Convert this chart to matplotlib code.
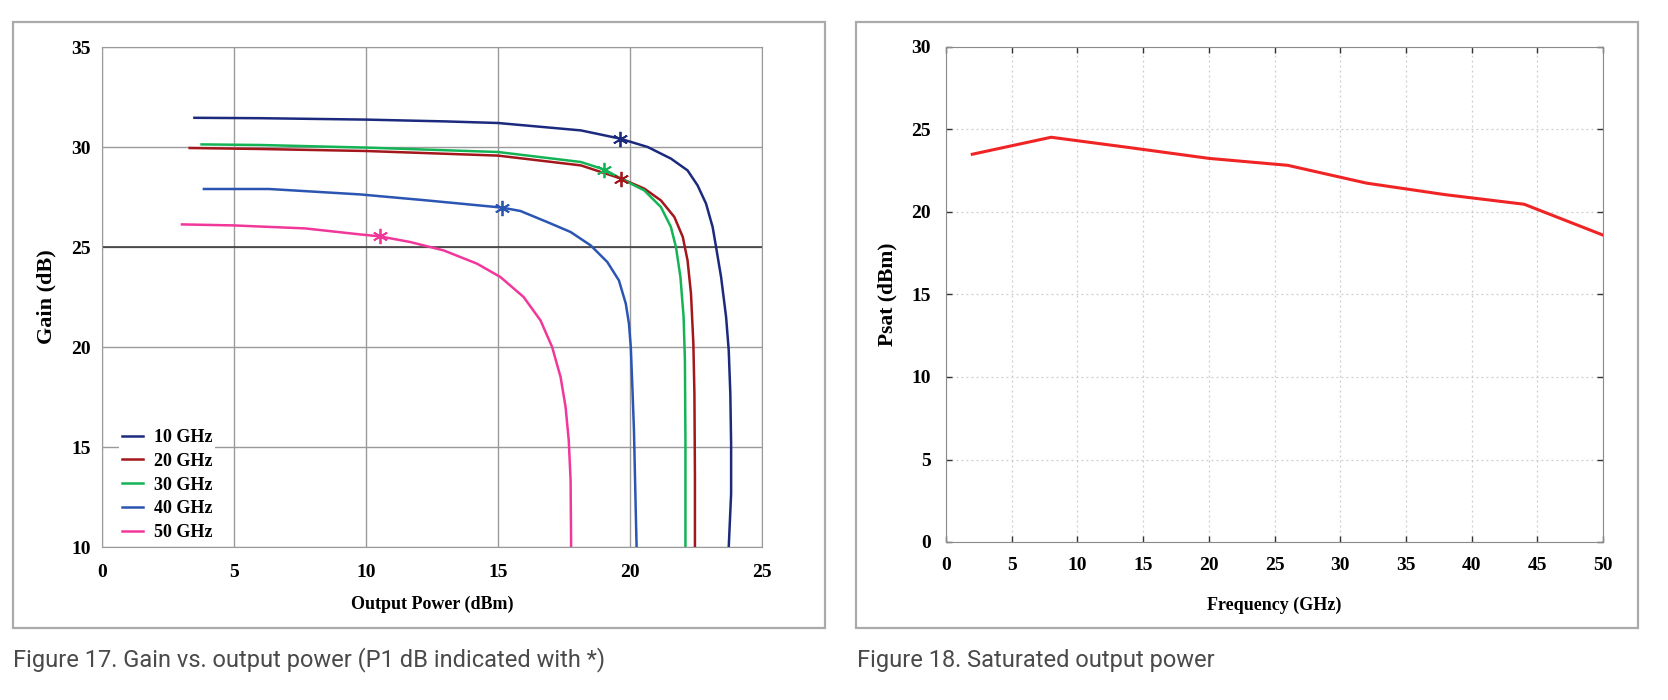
import matplotlib.pyplot as plt
from matplotlib.patches import Rectangle

# Figure 17 data: gain vs output power
p10_x = [3.5, 6.0, 10.0, 13.0, 15.0, 18.14, 19.62, 20.67, 21.55, 22.18, 22.56, 22.88, 23.13, 23.26,
         23.45, 23.64, 23.74, 23.8, 23.83, 23.83, 23.74]
p10_y = [31.46, 31.44, 31.37, 31.28, 31.2, 30.83, 30.42, 30.0, 29.42, 28.83, 28.08, 27.17, 26.0, 25.0,
         23.5, 21.5, 19.83, 17.67, 15.17, 12.67, 10.0]
p20_x = [3.32, 6.0, 10.0, 15.0, 18.14, 19.66, 20.54, 21.17, 21.68, 22.0, 22.18, 22.31, 22.4, 22.44,
         22.46, 22.46]
p20_y = [29.95, 29.9, 29.8, 29.57, 29.08, 28.42, 27.92, 27.33, 26.5, 25.5, 24.33, 22.67, 20.17, 17.67,
         13.5, 10.0]
p30_x = [3.77, 6.0, 10.0, 15.0, 18.14, 19.03, 19.79, 20.54, 21.17, 21.55, 21.74, 21.91, 22.03, 22.08,
         22.1, 22.1]
p30_y = [30.13, 30.1, 29.97, 29.75, 29.25, 28.87, 28.33, 27.83, 27.0, 26.0, 25.0, 23.5, 21.5, 19.33,
         15.17, 10.0]
p40_x = [3.86, 6.33, 9.77, 12.3, 15.15, 15.85, 16.86, 17.75, 18.51, 19.14, 19.58, 19.84, 19.96, 20.03,
         20.09, 20.15, 20.22, 20.25]
p40_y = [27.9, 27.9, 27.63, 27.33, 26.97, 26.8, 26.25, 25.75, 25.08, 24.25, 23.33, 22.17, 21.17, 20.0,
         18.0, 15.83, 11.67, 10.0]
p50_x = [3.03, 4.97, 7.69, 9.77, 10.53, 11.67, 12.94, 14.2, 15.09, 15.97, 16.61, 17.05, 17.37, 17.56,
         17.68, 17.75, 17.77]
p50_y = [26.13, 26.08, 25.93, 25.63, 25.53, 25.25, 24.83, 24.17, 23.5, 22.5, 21.33, 20.0, 18.5, 17.0,
         15.33, 13.33, 10.0]

labels = ['10 GHz', '20 GHz', '30 GHz', '40 GHz', '50 GHz']
colors = ['#1c2a7e', '#a3161c', '#14b456', '#2b55b3', '#f2379a']
# P1dB points (marked with *)
p1db_x = [19.62, 19.66, 19.03, 15.15, 10.53]
p1db_y = [30.42, 28.42, 28.87, 26.97, 25.53]

# Figure 18 data: saturated output power
freq = [2, 8, 14, 20, 26, 32, 38, 44, 50]
psat = [23.5, 24.53, 23.9, 23.25, 22.83, 21.75, 21.05, 20.47, 18.6]

serif = 'Liberation Serif'
W, H = 1668, 700

fig = plt.figure(figsize=(W / 100, H / 100), dpi=100)

#  Panel frames
for x0, y0, x1, y1 in [(13, 22, 825, 628), (856, 22, 1638, 628)]:
    fig.add_artist(Rectangle((x0 / W, 1 - y1 / H), (x1 - x0) / W, (y1 - y0) / H,
                             transform=fig.transFigure, fill=False, edgecolor='#aaaaaa', lw=1.6))

#  Left chart
ax = fig.add_axes([102 / W, 1 - 547 / H, (762 - 102) / W, (547 - 47) / H])
series = [(p10_x, p10_y), (p20_x, p20_y), (p30_x, p30_y), (p40_x, p40_y), (p50_x, p50_y)]
for (xs, ys), c, lab in zip(series, colors, labels):
    ax.plot(xs, ys, color=c, lw=1.8, label=lab, zorder=3)
for x, y, c in zip(p1db_x, p1db_y, colors):
    ax.plot([x], [y], marker=(6, 2, 0), markersize=11, markeredgewidth=1.3, color=c, zorder=4)
ax.set_xlim(0, 25)
ax.set_ylim(10, 35)
ax.set_xticks(range(0, 26, 5))
ax.set_yticks(range(10, 36, 5))
ax.grid(color='#9a9a9a', lw=1.0)
ax.axhline(25, color='#333333', lw=1.1, zorder=2)
for s in ax.spines.values():
    s.set_color('#9a9a9a')
    s.set_zorder(6)
ax.tick_params(length=0, pad=8, labelsize=14)
ax.tick_params(axis='x', pad=12)
for t in ax.get_xticklabels() + ax.get_yticklabels():
    t.set_fontfamily(serif)
    t.set_fontweight('bold')
ax.set_xlabel('Output Power (dBm)', fontfamily=serif, fontweight='bold', fontsize=13, labelpad=11)
ax.set_ylabel('Gain (dB)', fontfamily=serif, fontweight='bold', fontsize=16, labelpad=11)
leg = ax.legend(loc='lower left', frameon=True, fancybox=False, framealpha=1, edgecolor='none',
                handlelength=1.2, handletextpad=0.6, labelspacing=0.38, borderpad=0.15,
                bbox_to_anchor=(0.012, -0.012),
                prop={'family': serif, 'weight': 'bold', 'size': 13})
leg.set_zorder(5)

#  Right chart
ax2 = fig.add_axes([946 / W, 1 - 542 / H, (1603 - 946) / W, (542 - 47) / H])
ax2.plot(freq, psat, color='#f02424', lw=2.2, zorder=3)
ax2.set_xlim(0, 50)
ax2.set_ylim(0, 30)
ax2.set_xticks(range(0, 51, 5))
ax2.set_yticks(range(0, 31, 5))
ax2.grid(color='#cccccc', lw=0.9, ls=(0, (1.5, 2.5)))
for s in ax2.spines.values():
    s.set_color('#8a8a8a')
ax2.tick_params(direction='in', length=4, width=1, color='#333333', top=True, right=True,
                pad=11, labelsize=14)
for t in ax2.get_xticklabels() + ax2.get_yticklabels():
    t.set_fontfamily(serif)
    t.set_fontweight('bold')
ax2.set_xlabel('Frequency (GHz)', fontfamily=serif, fontweight='bold', fontsize=13, labelpad=16)
ax2.set_ylabel('Psat (dBm)', fontfamily=serif, fontweight='bold', fontsize=15.5, labelpad=10)

#  Captions
fig.text(13 / W, 1 - 660 / H, 'Figure 17. Gain vs. output power (P1 dB indicated with *)',
         fontfamily='Roboto', fontsize=17, color='#4a4a4a', va='center', ha='left')
fig.text(857 / W, 1 - 660 / H, 'Figure 18. Saturated output power',
         fontfamily='Roboto', fontsize=17, color='#4a4a4a', va='center', ha='left')

fig.savefig('out.png', dpi=100)
